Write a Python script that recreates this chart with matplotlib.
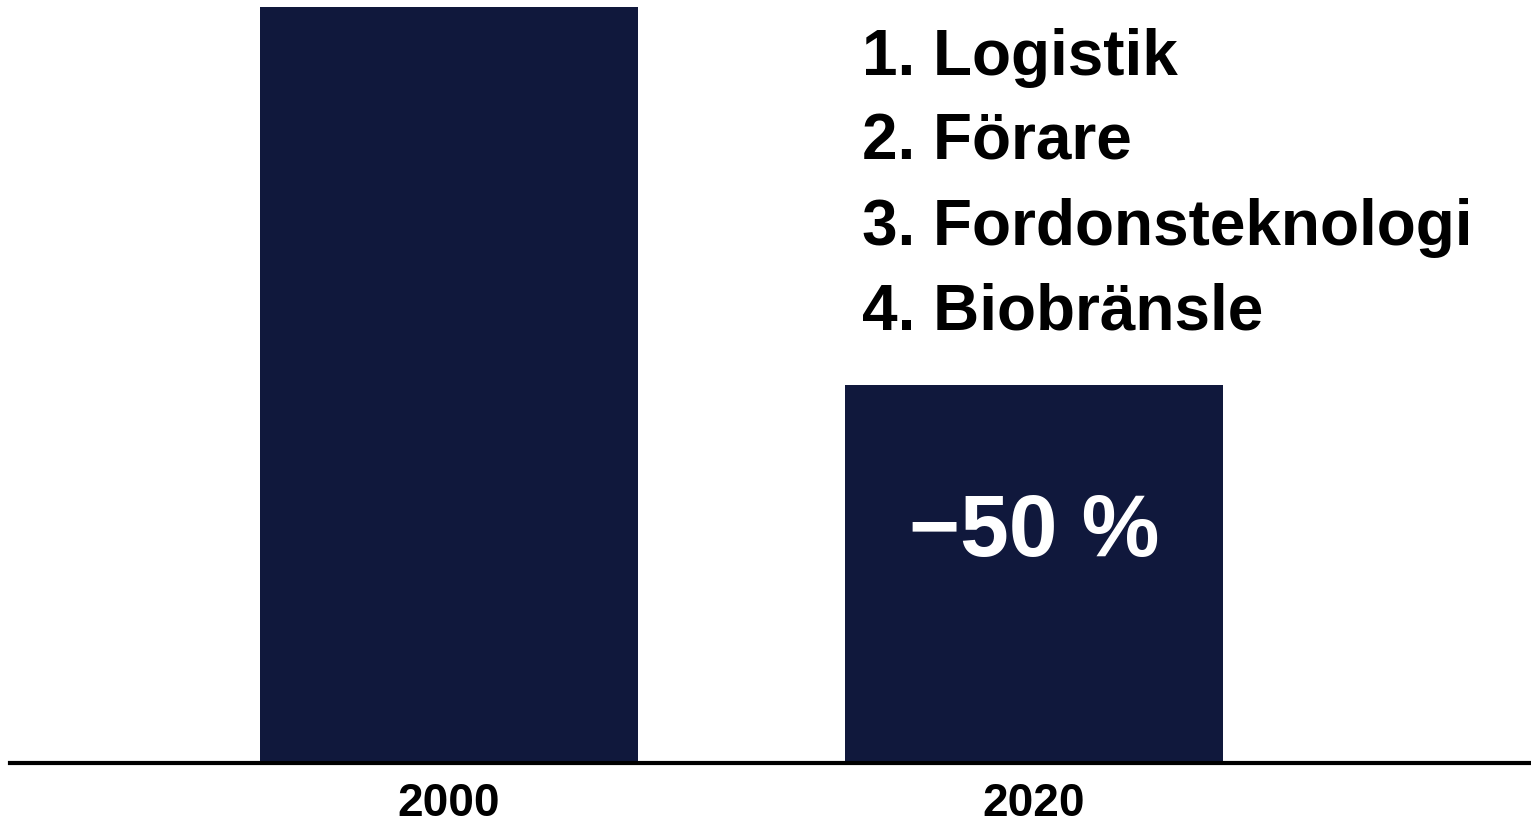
import matplotlib
matplotlib.use("Agg")
import matplotlib.pyplot as plt

years = ["2000", "2020"]
values = [100, 50]
items = ["1. Logistik", "2. Förare", "3. Fordonsteknologi", "4. Biobränsle"]
reduction_label = "−50 %"

bar_color = "#10183c"
W, H, DPI = 1531, 828, 100
plt.rcParams['font.family'] = ['Liberation Sans', 'DejaVu Sans']

fig = plt.figure(figsize=(W / DPI, H / DPI), dpi=DPI)
ax = fig.add_axes([10 / W, (H - 764) / H, (W - 10) / W, 764 / H])

x = list(range(len(years)))
ax.bar(x, values, width=0.646, color=bar_color, linewidth=0)
ax.set_xlim(-0.750, 1.850)
ax.set_ylim(0, 101.06)

for s in ["top", "right", "left"]:
    ax.spines[s].set_visible(False)
ax.spines["bottom"].set_linewidth(3)
ax.spines["bottom"].set_color("black")
ax.set_yticks([])
ax.set_xticks(x)
ax.set_xticklabels(years, fontsize=33, fontweight="bold")
ax.tick_params(axis="x", length=0, pad=13)

# reduction label inside 2020 bar
ax.text(x[1], values[1] * 0.61, reduction_label, color="white", fontsize=63,
        fontweight="bold", ha="center", va="center")

# list of measures
for i, item in enumerate(items):
    fig.text(862 / W, 1 - (75 + 85 * i) / H, item, fontsize=46, fontweight="bold",
             ha="left", va="baseline", color="black")

fig.savefig("out.png", dpi=DPI)
